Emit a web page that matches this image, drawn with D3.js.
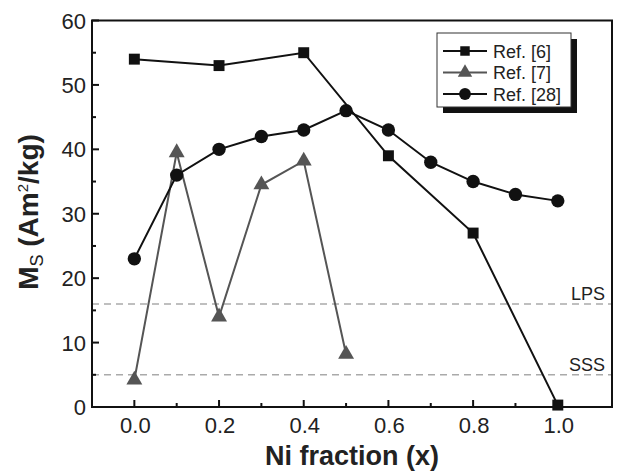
<!DOCTYPE html>
<html><head><meta charset="utf-8">
<script src="https://cdn.jsdelivr.net/npm/d3@7"></script>
<style>body{margin:0;background:#fff;} text{font-family:"Liberation Sans",Arial,sans-serif;}</style>
</head><body>
<svg id="c" width="617" height="472"></svg>
<script>
const ref6X = [0.0, 0.2, 0.4, 0.6, 0.8, 1.0];
const ref6Y = [54, 53, 55, 39, 27, 0.3];
const ref7X = [0.0, 0.1, 0.2, 0.3, 0.4, 0.5];
const ref7Y = [4.2, 39.5, 14, 34.5, 38.2, 8.2];
const ref28X = [0.0, 0.1, 0.2, 0.3, 0.4, 0.5, 0.6, 0.7, 0.8, 0.9, 1.0];
const ref28Y = [23, 36, 40, 42, 43, 46, 43, 38, 35, 33, 32];
const xTicks = [0.0, 0.2, 0.4, 0.6, 0.8, 1.0];
const yTicks = [0, 10, 20, 30, 40, 50, 60];
const refLines = [{v:16, label:"LPS"}, {v:5, label:"SSS"}];
const legendLabels = ["Ref. [6]", "Ref. [7]", "Ref. [28]"];

const svg = d3.select("#c");
const L = 92, R = 612, T = 20.5, B = 407;
const x = d3.scaleLinear().domain([-0.1, 1.128]).range([L, R]);
const y = d3.scaleLinear().domain([0, 60]).range([B, T]);

// reference dashed lines
refLines.forEach(r => {
  svg.append("line").attr("x1", L).attr("x2", R).attr("y1", y(r.v)).attr("y2", y(r.v))
    .attr("stroke", "#aaa").attr("stroke-width", 1.5).attr("stroke-dasharray", "7,5");
  svg.append("text").attr("x", 605).attr("y", y(r.v) - 4).attr("text-anchor", "end")
    .attr("font-size", 18).attr("fill", "#222").text(r.label);
});

// axes with inward ticks
const xMinor = d3.range(1, 10, 2).map(d => d / 10);
const yMinor = d3.range(5, 60, 10);
const g = svg.append("g");
xTicks.forEach(t => g.append("line").attr("x1", x(t)).attr("x2", x(t)).attr("y1", B).attr("y2", B - 7).attr("stroke", "#111").attr("stroke-width", 2));
xMinor.forEach(t => g.append("line").attr("x1", x(t)).attr("x2", x(t)).attr("y1", B).attr("y2", B - 4).attr("stroke", "#111").attr("stroke-width", 2));
yTicks.forEach(t => g.append("line").attr("x1", L).attr("x2", L + 7).attr("y1", y(t)).attr("y2", y(t)).attr("stroke", "#111").attr("stroke-width", 2));
yMinor.forEach(t => g.append("line").attr("x1", L).attr("x2", L + 4).attr("y1", y(t)).attr("y2", y(t)).attr("stroke", "#111").attr("stroke-width", 2));

xTicks.forEach(t => svg.append("text").attr("x", x(t) + 1).attr("y", 433).attr("text-anchor", "middle")
  .attr("font-size", 22).attr("fill", "#222").text(t.toFixed(1)));
yTicks.forEach(t => svg.append("text").attr("x", 86).attr("y", y(t) + 8).attr("text-anchor", "end")
  .attr("font-size", 22).attr("fill", "#222").text(t));

// frame
svg.append("rect").attr("x", L).attr("y", T).attr("width", R - L).attr("height", B - T)
  .attr("fill", "none").attr("stroke", "#111").attr("stroke-width", 2);

// series
const line = d3.line();
function series(xs, ys, color, sym, size) {
  const pts = xs.map((d, i) => [x(d), y(ys[i])]);
  svg.append("path").attr("d", line(pts)).attr("fill", "none").attr("stroke", color).attr("stroke-width", 2);
  svg.selectAll(null).data(pts).enter().append("path")
    .attr("transform", d => `translate(${d[0]},${d[1]})`)
    .attr("d", d3.symbol().type(sym).size(size)).attr("fill", color);
}
series(ref7X, ref7Y, "#555", d3.symbolTriangle, 110);
series(ref28X, ref28Y, "#111", d3.symbolCircle, 140);
series(ref6X, ref6Y, "#111", d3.symbolSquare, 120);

// legend
const lx = 437, ly = 33, lw = 134, lh = 74;
svg.append("rect").attr("x", lx + 6).attr("y", ly + 6).attr("width", lw).attr("height", lh).attr("fill", "#111");
svg.append("rect").attr("x", lx).attr("y", ly).attr("width", lw).attr("height", lh).attr("fill", "#fff").attr("stroke", "#333").attr("stroke-width", 1);
const legSyms = [d3.symbolSquare, d3.symbolTriangle, d3.symbolCircle];
const legCols = ["#111", "#555", "#111"];
const legSizes = [90, 90, 110];
legendLabels.forEach((lab, i) => {
  const yy = 51 + i * 21.5;
  svg.append("line").attr("x1", 443).attr("x2", 487).attr("y1", yy).attr("y2", yy).attr("stroke", legCols[i]).attr("stroke-width", 2);
  svg.append("path").attr("transform", `translate(465,${yy})`).attr("d", d3.symbol().type(legSyms[i]).size(legSizes[i])).attr("fill", legCols[i]);
  svg.append("text").attr("x", 493).attr("y", yy + 6.5).attr("font-size", 18).attr("fill", "#222").text(lab);
});

// axis titles
svg.append("text").attr("x", 352).attr("y", 465).attr("text-anchor", "middle")
  .attr("font-size", 27).attr("font-weight", "bold").attr("fill", "#222").text("Ni fraction (x)");
const yt = svg.append("text").attr("transform", "translate(38,212) rotate(-90)").attr("text-anchor", "middle")
  .attr("font-size", 28).attr("font-weight", "bold").attr("fill", "#222");
yt.append("tspan").text("M");
yt.append("tspan").attr("font-size", 18).attr("font-weight", "normal").attr("dy", 5).text("S");
yt.append("tspan").attr("dy", -5).text(" (Am");
yt.append("tspan").attr("font-size", 15).attr("font-weight", "normal").attr("dy", -10).text("2");
yt.append("tspan").attr("dy", 10).text("/kg)");
</script>
</body></html>
